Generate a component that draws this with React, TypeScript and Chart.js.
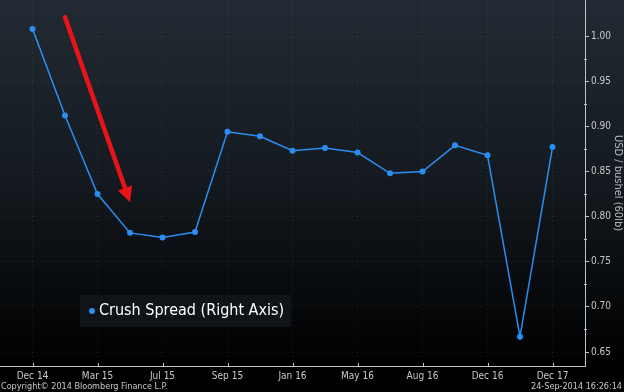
import { useEffect, useRef } from "react";
import { Chart, registerables } from "chart.js";

Chart.register(...registerables);

const categories = [
  "Dec 14", "Jan 15", "Mar 15", "May 15", "Jul 15", "Aug 15", "Sep 15", "Dec 15",
  "Jan 16", "Mar 16", "May 16", "Jul 16", "Aug 16", "Sep 16", "Dec 16", "Jul 17", "Dec 17",
];
const crushSpread = [
  1.008, 0.912, 0.825, 0.782, 0.777, 0.783, 0.894, 0.889,
  0.873, 0.876, 0.871, 0.848, 0.85, 0.879, 0.868, 0.667, 0.877,
];
const xLabelIndices = [0, 2, 4, 6, 8, 10, 12, 14, 16];
const yTicks = [0.65, 0.7, 0.75, 0.8, 0.85, 0.9, 0.95, 1.0];
const yMin = 0.6345;
const yMax = 1.04;
const seriesLabel = "Crush Spread (Right Axis)";
const yTitle = "USD / bushel (60lb)";
const copyrightText = "Copyright\u00a9 2014 Bloomberg Finance L.P.";
const timestampText = "24-Sep-2014 16:26:14";
// arrow annotation in data coordinates (x index, y value)
const arrowFrom = { x: 1.0, y: 1.021 };
const arrowTo = { x: 3.0, y: 0.816 };

const FONT = "'DejaVu Sans Condensed', 'DejaVu Sans', sans-serif";
const LINE_BLUE = "#2b8df2";
const AXIS_COLOR = "#c0c4c8";

const bgPlugin = {
  id: "bgGradient",
  beforeDraw(chart: any) {
    const { ctx, width, height } = chart;
    const g = ctx.createLinearGradient(0, 0, 0, height);
    g.addColorStop(0, "#222a33");
    g.addColorStop(0.45, "#141a20");
    g.addColorStop(0.93, "#000000");
    g.addColorStop(1, "#000000");
    ctx.save();
    ctx.fillStyle = g;
    ctx.fillRect(0, 0, width, height);
    ctx.restore();
  },
};

const overlayPlugin = {
  id: "overlay",
  afterDraw(chart: any) {
    const { ctx, chartArea, width, height } = chart;
    const xs = chart.scales.x;
    const ys = chart.scales.y;
    ctx.save();

    // minor ticks on right axis
    ctx.strokeStyle = AXIS_COLOR;
    ctx.lineWidth = 1;
    for (let i = 0; i < yTicks.length - 1; i++) {
      const v = (yTicks[i] + yTicks[i + 1]) / 2;
      const py = Math.round(ys.getPixelForValue(v)) + 0.5;
      ctx.beginPath();
      ctx.moveTo(chartArea.right - 1, py);
      ctx.lineTo(chartArea.right + 2, py);
      ctx.stroke();
    }
    // x-axis tick marks pointing up into the plot
    for (const i of xLabelIndices) {
      const px = Math.round(xs.getPixelForValue(i)) + 0.5;
      ctx.beginPath();
      ctx.moveTo(px, chartArea.bottom);
      ctx.lineTo(px, chartArea.bottom - 3);
      ctx.stroke();
    }

    // red arrow
    const x1 = xs.getPixelForValue(arrowFrom.x);
    const y1 = ys.getPixelForValue(arrowFrom.y);
    const x2 = xs.getPixelForValue(arrowTo.x);
    const y2 = ys.getPixelForValue(arrowTo.y);
    const ang = Math.atan2(y2 - y1, x2 - x1);
    const headLen = 15;
    const headW = 7.5;
    const bx = x2 - headLen * Math.cos(ang);
    const by = y2 - headLen * Math.sin(ang);
    ctx.strokeStyle = "#e8141a";
    ctx.fillStyle = "#e8141a";
    ctx.lineWidth = 4.5;
    ctx.lineCap = "round";
    ctx.beginPath();
    ctx.moveTo(x1, y1);
    ctx.lineTo(bx, by);
    ctx.stroke();
    ctx.beginPath();
    ctx.moveTo(x2, y2);
    ctx.lineTo(bx + headW * Math.sin(ang), by - headW * Math.cos(ang));
    ctx.lineTo(bx - headW * Math.sin(ang), by + headW * Math.cos(ang));
    ctx.closePath();
    ctx.fill();

    // legend box
    const lx = chartArea.left + 80;
    const ly = chartArea.bottom - 71;
    ctx.fillStyle = "#101317";
    ctx.fillRect(lx, ly, 211, 32);
    ctx.fillStyle = LINE_BLUE;
    ctx.beginPath();
    ctx.arc(lx + 12, ly + 16, 3, 0, Math.PI * 2);
    ctx.fill();
    ctx.fillStyle = "#ffffff";
    ctx.font = `16px ${FONT}`;
    ctx.textBaseline = "middle";
    ctx.textAlign = "left";
    ctx.fillText(seriesLabel, lx + 19, ly + 16);

    // footer texts
    ctx.font = `9px ${FONT}`;
    ctx.fillStyle = "#c8c8c8";
    ctx.textBaseline = "alphabetic";
    ctx.textAlign = "left";
    ctx.fillText(copyrightText, 1, height - 3);
    ctx.textAlign = "right";
    ctx.fillText(timestampText, width - 2, height - 3);
    ctx.restore();
  },
};

export default function App() {
  const ref = useRef<HTMLCanvasElement | null>(null);

  useEffect(() => {
    document.body.style.margin = "0";
    if (!ref.current) return;
    const data = crushSpread.map((v, i) => ({ x: i, y: v }));
    const chart = new Chart(ref.current, {
      type: "line",
      data: {
        datasets: [
          {
            label: seriesLabel,
            data,
            borderColor: LINE_BLUE,
            backgroundColor: LINE_BLUE,
            borderWidth: 1.5,
            pointRadius: 3,
            pointBorderWidth: 0,
            pointBackgroundColor: LINE_BLUE,
            tension: 0,
          },
        ],
      },
      options: {
        animation: false,
        responsive: false,
        maintainAspectRatio: false,
        layout: { padding: 0, autoPadding: false },
        plugins: {
          legend: { display: false },
          tooltip: { enabled: false },
          title: { display: false },
        },
        scales: {
          x: {
            type: "linear",
            position: "bottom",
            min: -1,
            max: categories.length,
            afterBuildTicks: (scale: any) => {
              scale.ticks = xLabelIndices.map((v) => ({ value: v }));
            },
            afterFit: (scale: any) => {
              scale.height = 26;
              scale.paddingLeft = 0;
              scale.paddingRight = 0;
            },
            ticks: {
              autoSkip: false,
              maxRotation: 0,
              color: "#c8c8c8",
              font: { family: FONT, size: 10 },
              padding: 4,
              callback: (v: any) => categories[v] ?? "",
            },
            grid: {
              color: "rgba(255,255,255,0.09)",
              drawTicks: false,
            },
            border: { display: true, color: AXIS_COLOR, width: 1, dash: [1, 3] },
          },
          y: {
            type: "linear",
            position: "right",
            min: yMin,
            max: yMax,
            afterBuildTicks: (scale: any) => {
              scale.ticks = yTicks.map((v) => ({ value: v }));
            },
            afterFit: (scale: any) => {
              scale.width = 39;
              scale.paddingTop = 0;
              scale.paddingBottom = 0;
            },
            ticks: {
              color: "#c8c8c8",
              font: { family: FONT, size: 10 },
              padding: 2,
              callback: (v: any) => Number(v).toFixed(2),
            },
            grid: {
              color: "rgba(255,255,255,0.09)",
              tickColor: AXIS_COLOR,
              tickLength: 4,
            },
            border: { display: true, color: AXIS_COLOR, width: 1, dash: [1, 3] },
            title: {
              display: true,
              text: yTitle,
              color: "#b8bcc0",
              font: { family: FONT, size: 11 },
              padding: 0,
            },
          },
        },
      },
      plugins: [bgPlugin, overlayPlugin],
    } as any);
    return () => chart.destroy();
  }, []);

  return (
    <div style={{ width: 624, height: 392 }}>
      <style>{`body{margin:0;background:#000}`}</style>
      <canvas ref={ref} width={624} height={392} style={{ display: "block" }} />
    </div>
  );
}
